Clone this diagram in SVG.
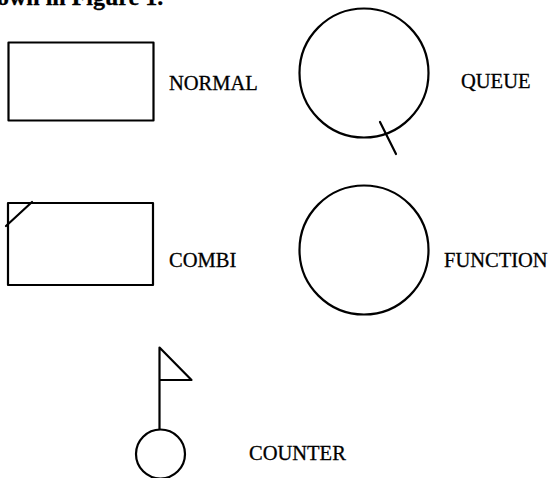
<svg xmlns="http://www.w3.org/2000/svg" width="551" height="478" viewBox="0 0 551 478">
<style>
.s{fill:none;stroke:#000;stroke-width:2.2;stroke-linecap:round;stroke-linejoin:round}
.t{font-family:"Liberation Serif","Times New Roman",serif;font-size:20.5px;fill:#000;stroke:#000;stroke-width:0.3}
</style>
<rect width="551" height="478" fill="#fff"/>
<text x="-3" y="5" class="t" style="font-size:24px;font-weight:bold">own in Figure 1.</text>
<g id="normal">
<rect class="s" x="8.5" y="42.5" width="145" height="78"/>
<text class="t" x="169" y="90">NORMAL</text>
</g>
<g id="queue">
<circle class="s" cx="364" cy="73" r="64.5"/>
<line class="s" x1="380" y1="122" x2="396" y2="154"/>
<text class="t" x="461" y="88">QUEUE</text>
</g>
<g id="combi">
<rect class="s" x="8" y="203" width="145" height="82"/>
<line class="s" x1="6" y1="226" x2="32" y2="202"/>
<text class="t" x="169" y="267">COMBI</text>
</g>
<g id="function">
<circle class="s" cx="364" cy="250" r="64.5"/>
<text class="t" x="444" y="267">FUNCTION</text>
</g>
<g id="counter">
<polyline class="s" points="159.5,429 159.5,347.5 191.5,380 159.5,380"/>
<circle class="s" cx="160.5" cy="454" r="24.5"/>
<text class="t" x="249" y="460">COUNTER</text>
</g>
<g id="connectors"></g>
</svg>
